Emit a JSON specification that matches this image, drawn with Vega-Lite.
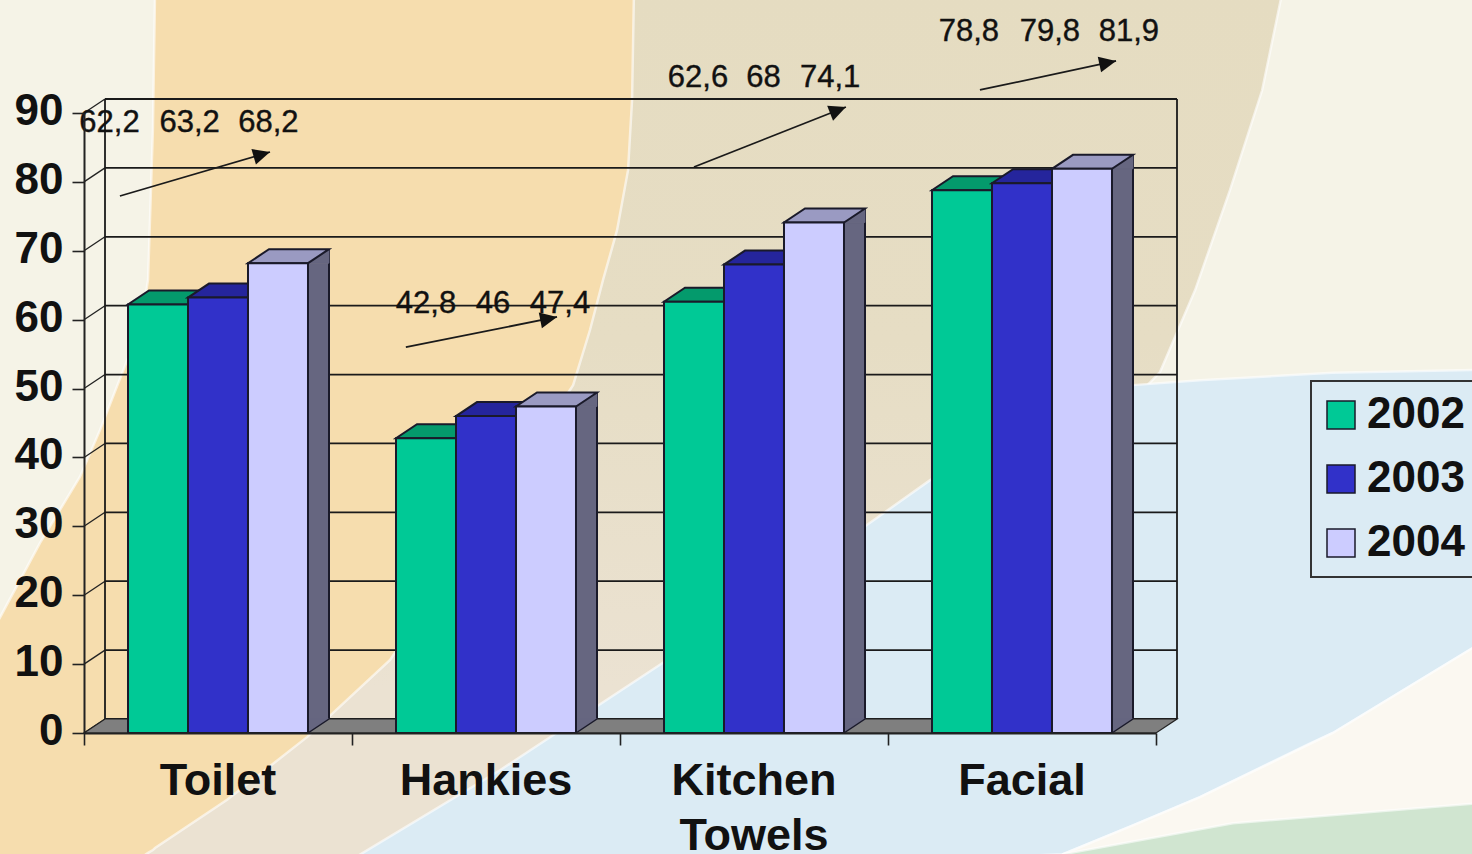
{
  "$schema": "https://vega.github.io/schema/vega-lite/v6.json",
  "width": 1072,
  "height": 620,
  "autosize": "none",
  "padding": {"left": 84, "top": 113, "right": 316, "bottom": 121},
  "background": "#F5F3E7",
  "view": {"stroke": null},
  "config": {"font": "Liberation Sans", "legend": {"strokeWidth": 2}},
  "datasets": {
    "sales": [
      {"category": "Toilet", "year": "2002", "value": 62.2},
      {"category": "Toilet", "year": "2003", "value": 63.2},
      {"category": "Toilet", "year": "2004", "value": 68.2},
      {"category": "Hankies", "year": "2002", "value": 42.8},
      {"category": "Hankies", "year": "2003", "value": 46},
      {"category": "Hankies", "year": "2004", "value": 47.4},
      {"category": "Kitchen Towels", "year": "2002", "value": 62.6},
      {"category": "Kitchen Towels", "year": "2003", "value": 68},
      {"category": "Kitchen Towels", "year": "2004", "value": 74.1},
      {"category": "Facial", "year": "2002", "value": 78.8},
      {"category": "Facial", "year": "2003", "value": 79.8},
      {"category": "Facial", "year": "2004", "value": 81.9}
    ],
    "gridlines": [
      {"tick": 0}, {"tick": 10}, {"tick": 20}, {"tick": 30}, {"tick": 40},
      {"tick": 50}, {"tick": 60}, {"tick": 70}, {"tick": 80}, {"tick": 90}
    ],
    "callouts": [
      {"label": "62,2", "at": 0.095, "level": 88.5},
      {"label": "63,2", "at": 0.394, "level": 88.5},
      {"label": "68,2", "at": 0.688, "level": 88.5},
      {"label": "42,8", "at": 1.276, "level": 62.3},
      {"label": "46", "at": 1.526, "level": 62.3},
      {"label": "47,4", "at": 1.776, "level": 62.3},
      {"label": "62,6", "at": 2.291, "level": 95.1},
      {"label": "68", "at": 2.535, "level": 95.1},
      {"label": "74,1", "at": 2.784, "level": 95.1},
      {"label": "78,8", "at": 3.302, "level": 101.7},
      {"label": "79,8", "at": 3.604, "level": 101.7},
      {"label": "81,9", "at": 3.899, "level": 101.7}
    ],
    "trends": [
      {"category": "Toilet", "at": 0.134, "level": 77.95, "at2": 0.694, "level2": 84.34, "heading": -16.3},
      {"category": "Hankies", "at": 1.201, "level": 56.03, "at2": 1.765, "level2": 60.39, "heading": -11.2},
      {"category": "Kitchen Towels", "at": 2.276, "level": 82.16, "at2": 2.843, "level2": 90.87, "heading": -21.5},
      {"category": "Facial", "at": 3.343, "level": 93.34, "at2": 3.851, "level2": 97.55, "heading": -12}
    ],
    "backdrop": [
      {"region": "beige", "x": 0.201, "top": -18.4, "bottom": -18.4},
      {"region": "beige", "x": 0.321, "top": 107.3, "bottom": -18.4},
      {"region": "beige", "x": 3.642, "top": 107.3, "bottom": -18.4},
      {"region": "beige", "x": 3.914, "top": 107.3, "bottom": 48.3},
      {"region": "beige", "x": 4.015, "top": 107.3, "bottom": 52.4},
      {"region": "beige", "x": 4.146, "top": 107.3, "bottom": 64.3},
      {"region": "beige", "x": 4.276, "top": 107.3, "bottom": 78.8},
      {"region": "beige", "x": 4.396, "top": 107.3, "bottom": 93.3},
      {"region": "beige", "x": 4.47, "top": 107.3, "bottom": 107.3},
      {"region": "orange", "x": -0.336, "top": 15.2, "bottom": -18.4},
      {"region": "orange", "x": -0.313, "top": 16.8, "bottom": -18.4},
      {"region": "orange", "x": -0.164, "top": 27.6, "bottom": -18.4},
      {"region": "orange", "x": -0.015, "top": 37.2, "bottom": -18.4},
      {"region": "orange", "x": 0.06, "top": 44.0, "bottom": -18.4},
      {"region": "orange", "x": 0.161, "top": 54.1, "bottom": -18.4},
      {"region": "orange", "x": 0.209, "top": 58.5, "bottom": -18.2},
      {"region": "orange", "x": 0.239, "top": 65.8, "bottom": -17.4},
      {"region": "orange", "x": 0.257, "top": 87.5, "bottom": -17.0},
      {"region": "orange", "x": 0.265, "top": 107.3, "bottom": -16.7},
      {"region": "orange", "x": 0.534, "top": 107.3, "bottom": -9.7},
      {"region": "orange", "x": 0.832, "top": 107.3, "bottom": -0.6},
      {"region": "orange", "x": 1.142, "top": 107.3, "bottom": 10.6},
      {"region": "orange", "x": 1.478, "top": 107.3, "bottom": 30.2},
      {"region": "orange", "x": 1.825, "top": 107.3, "bottom": 50.5},
      {"region": "orange", "x": 1.888, "top": 107.3, "bottom": 58.5},
      {"region": "orange", "x": 1.937, "top": 107.3, "bottom": 65.8},
      {"region": "orange", "x": 1.989, "top": 107.3, "bottom": 73.0},
      {"region": "orange", "x": 2.03, "top": 107.3, "bottom": 81.7},
      {"region": "orange", "x": 2.045, "top": 107.3, "bottom": 91.9},
      {"region": "orange", "x": 2.052, "top": 107.3, "bottom": 107.3},
      {"region": "blue", "x": 1.019, "top": -17.9, "bottom": -18.4},
      {"region": "blue", "x": 1.552, "top": -5.4, "bottom": -18.4},
      {"region": "blue", "x": 2.149, "top": 9.9, "bottom": -18.4},
      {"region": "blue", "x": 2.896, "top": 29.5, "bottom": -18.4},
      {"region": "blue", "x": 3.157, "top": 36.7, "bottom": -18.4},
      {"region": "blue", "x": 3.653, "top": 46.2, "bottom": -17.6},
      {"region": "blue", "x": 3.914, "top": 50.5, "bottom": -13.4},
      {"region": "blue", "x": 4.164, "top": 51.2, "bottom": -9.3},
      {"region": "blue", "x": 4.575, "top": 52.1, "bottom": -1.5},
      {"region": "blue", "x": 4.66, "top": 52.3, "bottom": 0},
      {"region": "blue", "x": 5.201, "top": 52.7, "bottom": 12.8},
      {"region": "cream", "x": 3.653, "top": -17.6, "bottom": -18.4},
      {"region": "cream", "x": 3.914, "top": -13.4, "bottom": -18.4},
      {"region": "cream", "x": 4.164, "top": -9.3, "bottom": -18.4},
      {"region": "cream", "x": 4.66, "top": 0, "bottom": -18.4},
      {"region": "cream", "x": 5.201, "top": 12.8, "bottom": -18.4},
      {"region": "green", "x": 3.653, "top": -17.6, "bottom": -18.4},
      {"region": "green", "x": 4.287, "top": -13.1, "bottom": -18.4},
      {"region": "green", "x": 5.201, "top": -10.2, "bottom": -18.4}
    ]
  },
  "resolve": {
    "scale": {"x": "independent", "fill": "independent"},
    "axis": {"x": "independent", "y": "independent"}
  },
  "layer": [
    {
      "data": {"name": "backdrop"},
      "transform": [{"filter": {"field": "region", "equal": "beige"}}],
      "mark": {
        "type": "area",
        "stroke": "#FFFFFF",
        "strokeWidth": 2.5,
        "strokeOpacity": 0.6,
        "color": {
          "gradient": "linear",
          "x1": 0, "y1": 0, "x2": 0, "y2": 1,
          "stops": [
            {"offset": 0, "color": "#E5DCC1"},
            {"offset": 0.4, "color": "#E6DDC4"},
            {"offset": 0.8, "color": "#EBE2D2"},
            {"offset": 1, "color": "#EBE2D2"}
          ]
        }
      },
      "encoding": {
        "x": {"field": "x", "type": "quantitative", "scale": {"domain": [0, 4]}, "axis": null},
        "y": {"field": "top", "type": "quantitative", "stack": null, "scale": {"domain": [0, 90]}, "axis": null},
        "y2": {"field": "bottom"}
      }
    },
    {
      "data": {"name": "backdrop"},
      "transform": [{"filter": {"field": "region", "oneOf": ["orange", "blue", "cream", "green"]}}],
      "mark": {"type": "area", "stroke": "#FFFFFF", "strokeWidth": 2.5, "strokeOpacity": 0.6},
      "encoding": {
        "x": {"field": "x", "type": "quantitative", "scale": {"domain": [0, 4]}, "axis": null},
        "y": {"field": "top", "type": "quantitative", "stack": null, "scale": {"domain": [0, 90]}, "axis": null},
        "y2": {"field": "bottom"},
        "fill": {
          "field": "region",
          "type": "nominal",
          "legend": null,
          "scale": {
            "domain": ["orange", "blue", "cream", "green"],
            "range": ["#F6DDAE", "#DBEBF4", "#FBF8F1", "#D0E5D0"]
          }
        }
      }
    },
    {
      "data": {"name": "gridlines"},
      "mark": {"type": "rule", "color": "#1A1A1A", "strokeWidth": 1.8, "xOffset": 21, "x2Offset": 21, "yOffset": -14},
      "encoding": {
        "x": {
          "datum": 0,
          "type": "quantitative",
          "title": null,
          "scale": {"domain": [0, 4]},
          "axis": {
            "orient": "bottom",
            "zindex": 1,
            "values": [0, 1, 2, 3, 4],
            "labels": false,
            "grid": false,
            "tickSize": 12,
            "tickColor": "#222222",
            "tickWidth": 1.6,
            "domainColor": "#222222",
            "domainWidth": 2
          }
        },
        "x2": {"datum": 4},
        "y": {
          "field": "tick",
          "type": "quantitative",
          "title": null,
          "scale": {"domain": [0, 90]},
          "axis": {
            "orient": "left",
            "zindex": 1,
            "values": [0, 10, 20, 30, 40, 50, 60, 70, 80, 90],
            "grid": false,
            "labelFont": "Liberation Sans",
            "labelFontWeight": "bold",
            "labelFontSize": 44,
            "labelColor": "#111111",
            "labelPadding": 9,
            "labelOffset": -1.5,
            "tickSize": 12,
            "tickColor": "#222222",
            "tickWidth": 1.6,
            "domainColor": "#222222",
            "domainWidth": 2
          }
        }
      }
    },
    {
      "data": {"name": "gridlines"},
      "mark": {"type": "point", "shape": "M0,0L21,-14", "size": 4, "filled": false, "stroke": "#222222", "strokeWidth": 1.3, "opacity": 1},
      "encoding": {
        "x": {"datum": 0, "type": "quantitative", "scale": {"domain": [0, 4]}, "axis": null},
        "y": {"field": "tick", "type": "quantitative", "scale": {"domain": [0, 90]}, "axis": null}
      }
    },
    {
      "data": {"values": [{"edge": 0}, {"edge": 4}]},
      "mark": {"type": "rule", "color": "#1A1A1A", "strokeWidth": 1.8, "xOffset": 21, "yOffset": -14, "y2Offset": -14},
      "encoding": {
        "x": {"field": "edge", "type": "quantitative", "scale": {"domain": [0, 4]}, "axis": null},
        "y": {"datum": 0, "type": "quantitative", "scale": {"domain": [0, 90]}, "axis": null},
        "y2": {"datum": 90}
      }
    },
    {
      "data": {"values": [{"floor": 0}]},
      "mark": {"type": "point", "shape": "M0,0L21,-14L1093,-14L1072,0Z", "size": 4, "filled": true, "fill": "#7F7F7F", "stroke": "#222222", "strokeWidth": 1.2, "opacity": 1},
      "encoding": {
        "x": {"field": "floor", "type": "quantitative", "scale": {"domain": [0, 4]}, "axis": null},
        "y": {"field": "floor", "type": "quantitative", "scale": {"domain": [0, 90]}, "axis": null}
      }
    },
    {
      "data": {"name": "sales"},
      "encoding": {
        "x": {
          "field": "category",
          "type": "nominal",
          "title": null,
          "sort": null,
          "scale": {
            "domain": ["Toilet", "Hankies", "Kitchen Towels", "Facial"],
            "paddingInner": 0.3284,
            "paddingOuter": 0.1642
          },
          "axis": {
            "orient": "bottom",
            "zindex": 1,
            "domain": false,
            "ticks": false,
            "labelAngle": 0,
            "labelFont": "Liberation Sans",
            "labelFontWeight": "bold",
            "labelFontSize": 45,
            "labelColor": "#111111",
            "labelPadding": 25,
            "labelLineHeight": 55,
            "labelOverlap": false,
            "labelLimit": 400,
            "labelExpr": "datum.label == 'Kitchen Towels' ? ['Kitchen', 'Towels'] : datum.label"
          }
        },
        "y": {"field": "value", "type": "quantitative", "title": null, "scale": {"domain": [0, 90]}, "axis": null}
      },
      "layer": [
        {
          "transform": [{"filter": {"field": "year", "equal": "2004"}}],
          "mark": {"type": "bar", "width": 21, "xOffset": 100.5, "y2Offset": -14, "fill": "#666680", "stroke": "#666680", "strokeWidth": 0.8},
          "encoding": {"y2": {"datum": 0}}
        },
        {
          "transform": [{"filter": {"field": "year", "equal": "2004"}}],
          "mark": {"type": "rule", "color": "#1A1A2A", "strokeWidth": 2, "xOffset": 111, "yOffset": -14, "y2Offset": -14},
          "encoding": {"y2": {"datum": 0}}
        },
        {
          "mark": {"type": "point", "shape": "M30,0L51,-14L51,0Z", "size": 4, "filled": true, "fill": "#666680", "stroke": "#666680", "strokeWidth": 0.8, "opacity": 1},
          "encoding": {
            "xOffset": {"field": "year", "type": "nominal", "scale": {"domain": ["2002", "2003", "2004"], "paddingInner": 0, "paddingOuter": 0}}
          }
        },
        {
          "mark": {"type": "point", "shape": "M30,-14L51,-14L30,0Z", "size": 4, "filled": true, "fill": "#666680", "stroke": "#666680", "strokeWidth": 0.8, "opacity": 1},
          "encoding": {
            "xOffset": {"field": "year", "type": "nominal", "scale": {"domain": ["2002", "2003", "2004"], "paddingInner": 0, "paddingOuter": 0}},
            "y": {"datum": 0, "type": "quantitative", "axis": null}
          }
        },
        {
          "mark": {"type": "point", "shape": "M30,0L51,-14", "size": 4, "filled": false, "stroke": "#1A1A2A", "strokeWidth": 1.5, "opacity": 1},
          "encoding": {
            "xOffset": {"field": "year", "type": "nominal", "scale": {"domain": ["2002", "2003", "2004"], "paddingInner": 0, "paddingOuter": 0}},
            "y": {"datum": 0, "type": "quantitative", "axis": null}
          }
        },
        {
          "mark": {"type": "point", "shape": "M-30,0L30,0L51,-14L-9,-14Z", "size": 4, "filled": true, "stroke": "#1A1A2A", "strokeWidth": 2, "opacity": 1},
          "encoding": {
            "xOffset": {"field": "year", "type": "nominal", "scale": {"domain": ["2002", "2003", "2004"], "paddingInner": 0, "paddingOuter": 0}},
            "fill": {
              "field": "year",
              "type": "nominal",
              "legend": null,
              "scale": {"domain": ["2002", "2003", "2004"], "range": ["#049A6C", "#25259C", "#9A9AC2"]}
            }
          }
        },
        {
          "mark": {"type": "bar", "stroke": "#1A1A2A", "strokeWidth": 2},
          "encoding": {
            "xOffset": {"field": "year", "type": "nominal", "scale": {"domain": ["2002", "2003", "2004"], "paddingInner": 0, "paddingOuter": 0}},
            "y2": {"datum": 0},
            "color": {
              "field": "year",
              "type": "nominal",
              "scale": {"domain": ["2002", "2003", "2004"], "range": ["#00C996", "#3131C9", "#CCCCFF"]},
              "legend": {
                "title": null,
                "orient": "none",
                "legendX": 1227,
                "legendY": 268,
                "symbolType": "square",
                "symbolSize": 784,
                "symbolOffset": -4,
                "symbolStrokeColor": "#1A1A2A",
                "symbolStrokeWidth": 1.5,
                "symbolOpacity": 1,
                "labelFont": "Liberation Sans",
                "labelFontWeight": "bold",
                "labelFontSize": 44,
                "labelColor": "#111111",
                "labelOffset": 4,
                "labelLimit": 300,
                "rowPadding": 20,
                "padding": 12,
                "strokeColor": "#333333"
              }
            }
          }
        }
      ]
    },
    {
      "data": {"name": "trends"},
      "mark": {"type": "rule", "color": "#1A1A1A", "strokeWidth": 1.8},
      "encoding": {
        "x": {"field": "at", "type": "quantitative", "scale": {"domain": [0, 4]}, "axis": null},
        "x2": {"field": "at2"},
        "y": {"field": "level", "type": "quantitative", "scale": {"domain": [0, 90]}, "axis": null},
        "y2": {"field": "level2"}
      }
    },
    {
      "data": {"name": "trends"},
      "mark": {"type": "point", "shape": "M0,0L-17,-8L-17,8Z", "size": 4, "filled": true, "fill": "#111111", "opacity": 1},
      "encoding": {
        "x": {"field": "at2", "type": "quantitative", "scale": {"domain": [0, 4]}, "axis": null},
        "y": {"field": "level2", "type": "quantitative", "scale": {"domain": [0, 90]}, "axis": null},
        "angle": {"field": "heading", "type": "quantitative", "scale": null}
      }
    },
    {
      "data": {"name": "callouts"},
      "mark": {"type": "text", "font": "Liberation Sans", "fontSize": 31, "color": "#111111", "stroke": "#111111", "strokeWidth": 0.4, "align": "center", "baseline": "middle"},
      "encoding": {
        "x": {"field": "at", "type": "quantitative", "scale": {"domain": [0, 4]}, "axis": null},
        "y": {"field": "level", "type": "quantitative", "scale": {"domain": [0, 90]}, "axis": null},
        "text": {"field": "label"}
      }
    }
  ]
}
